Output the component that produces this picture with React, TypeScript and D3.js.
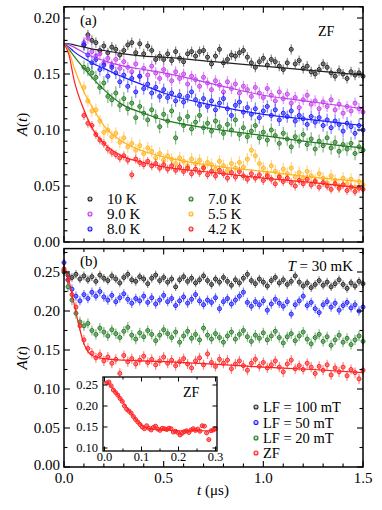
import React from "react";
import * as d3 from "d3";

// ---------- DATA ----------
// Panel (a): ZF asymmetry, t = 0.10 + 0.02*i (μs)
const TOP_T0 = 0.1;
const TOP_STEP = 0.02;
const topLabels = ["10 K", "9.0 K", "8.0 K", "7.0 K", "5.5 K", "4.2 K"];
const a10K = [
  0.176,0.185,0.180,0.178,0.171,0.175,0.169,0.174,0.172,0.167,
  0.171,0.176,0.178,0.169,0.177,0.168,0.175,0.171,0.163,0.166,
  0.163,0.168,0.162,0.170,0.164,0.161,0.168,0.170,0.166,0.170,
  0.171,0.165,0.159,0.166,0.172,0.160,0.163,0.167,0.166,0.169,
  0.171,0.165,0.160,0.156,0.161,0.164,0.158,0.163,0.161,0.157,
  0.154,0.160,0.172,0.159,0.162,0.155,0.157,0.152,0.150,0.154,
  0.159,0.156,0.151,0.148,0.153,0.150,0.146,0.152,0.149,0.151,
  0.148];
const a9K = [
  0.178,0.182,0.170,0.166,0.168,0.160,0.164,0.158,0.163,0.155,
  0.161,0.156,0.152,0.159,0.148,0.155,0.149,0.157,0.151,0.146,
  0.154,0.149,0.144,0.152,0.146,0.150,0.141,0.148,0.145,0.139,
  0.147,0.142,0.136,0.144,0.140,0.134,0.143,0.137,0.141,0.133,
  0.139,0.136,0.130,0.138,0.133,0.129,0.137,0.131,0.126,0.134,
  0.128,0.132,0.124,0.129,0.120,0.127,0.131,0.123,0.126,0.119,
  0.125,0.121,0.127,0.118,0.123,0.115,0.121,0.117,0.124,0.119,
  0.116];
const a8K = [
  0.176,0.167,0.160,0.163,0.154,0.158,0.148,0.156,0.151,0.143,
  0.149,0.139,0.146,0.134,0.148,0.137,0.141,0.133,0.138,0.130,
  0.136,0.129,0.133,0.126,0.131,0.125,0.130,0.134,0.127,0.122,
  0.128,0.121,0.126,0.118,0.124,0.128,0.119,0.113,0.122,0.125,
  0.116,0.120,0.114,0.119,0.111,0.117,0.121,0.113,0.118,0.109,
  0.115,0.112,0.117,0.108,0.113,0.110,0.105,0.112,0.107,0.111,
  0.104,0.109,0.102,0.108,0.105,0.099,0.106,0.103,0.097,0.104,
  0.100];
const a7K = [
  0.156,0.154,0.151,0.147,0.138,0.142,0.130,0.127,0.133,0.122,
  0.128,0.119,0.124,0.111,0.121,0.115,0.109,0.118,0.112,0.103,
  0.114,0.108,0.117,0.093,0.110,0.104,0.112,0.101,0.107,0.113,
  0.102,0.106,0.099,0.108,0.103,0.097,0.105,0.100,0.109,0.096,
  0.102,0.094,0.099,0.104,0.093,0.098,0.091,0.100,0.095,0.088,
  0.097,0.092,0.085,0.094,0.090,0.096,0.087,0.092,0.083,0.090,
  0.086,0.093,0.084,0.089,0.081,0.087,0.083,0.088,0.079,0.085,
  0.082];
const a55K = [
  0.138,0.126,0.117,0.118,0.108,0.098,0.100,0.094,0.097,0.089,
  0.093,0.085,0.088,0.082,0.086,0.079,0.084,0.081,0.075,0.079,
  0.073,0.077,0.074,0.070,0.075,0.072,0.068,0.074,0.070,0.073,
  0.067,0.071,0.069,0.065,0.072,0.068,0.064,0.070,0.066,0.071,
  0.067,0.074,0.082,0.077,0.070,0.066,0.061,0.068,0.063,0.059,
  0.065,0.061,0.066,0.058,0.062,0.057,0.063,0.059,0.055,0.061,
  0.057,0.053,0.059,0.055,0.050,0.057,0.052,0.056,0.049,0.054,
  0.051];
const a42K = [
  0.113,0.106,0.104,0.096,0.091,0.088,0.083,0.080,0.078,0.075,
  0.077,0.073,0.060,0.074,0.071,0.069,0.072,0.068,0.070,0.066,
  0.069,0.065,0.068,0.064,0.067,0.063,0.066,0.061,0.065,0.062,
  0.066,0.060,0.063,0.059,0.064,0.061,0.057,0.062,0.058,0.063,
  0.059,0.056,0.061,0.057,0.060,0.055,0.059,0.056,0.052,0.058,
  0.054,0.057,0.053,0.050,0.055,0.052,0.056,0.051,0.054,0.049,
  0.053,0.050,0.047,0.052,0.048,0.051,0.046,0.049,0.045,0.048,
  0.047];
// fit curves for panel (a), sampled at fitT
const fitT = [0, 0.025, 0.05, 0.1, 0.15, 0.2, 0.3, 0.4, 0.5, 0.75, 1.0, 1.25, 1.5];
const fit10K = [0.177,0.177,0.176,0.174,0.172,0.171,0.168,0.166,0.165,0.161,0.157,0.153,0.149];
const fit9K = [0.177,0.176,0.174,0.169,0.165,0.162,0.157,0.154,0.151,0.141,0.131,0.125,0.119];
const fit8K = [0.177,0.174,0.170,0.164,0.159,0.155,0.147,0.140,0.133,0.122,0.114,0.109,0.104];
const fit7K = [0.177,0.172,0.166,0.155,0.145,0.136,0.122,0.115,0.109,0.101,0.095,0.089,0.084];
const fit55K = [0.177,0.170,0.156,0.134,0.118,0.104,0.089,0.081,0.076,0.068,0.063,0.058,0.054];
const fit42K = [0.177,0.167,0.145,0.118,0.099,0.088,0.076,0.071,0.067,0.062,0.057,0.053,0.048];

// Panel (b): T = 30 mK, t = 0.00 + 0.02*i (μs)
const BOT_T0 = 0.0;
const BOT_STEP = 0.02;
const botLabels = ["LF = 100 mT", "LF = 50 mT", "LF = 20 mT", "ZF"];
const bLF100 = [
  0.250,0.246,0.243,0.247,0.241,0.245,0.240,0.244,0.238,0.246,
  0.242,0.239,0.245,0.241,0.236,0.243,0.247,0.240,0.238,0.244,
  0.241,0.235,0.242,0.246,0.239,0.243,0.237,0.241,0.231,0.240,
  0.244,0.238,0.242,0.236,0.240,0.245,0.239,0.234,0.241,0.237,
  0.243,0.238,0.233,0.240,0.236,0.242,0.247,0.239,0.235,0.241,
  0.237,0.232,0.239,0.243,0.236,0.240,0.234,0.238,0.245,0.237,
  0.232,0.236,0.230,0.234,0.239,0.233,0.237,0.231,0.235,0.240,
  0.234,0.229,0.236,0.232,0.238,0.235];
const bLF50 = [
  0.262,0.240,0.228,0.219,0.213,0.221,0.216,0.224,0.219,0.225,
  0.218,0.214,0.220,0.212,0.217,0.222,0.215,0.210,0.216,0.213,
  0.219,0.211,0.217,0.209,0.214,0.220,0.212,0.216,0.207,0.213,
  0.218,0.210,0.215,0.221,0.213,0.208,0.214,0.211,0.217,0.203,
  0.212,0.216,0.209,0.214,0.219,0.224,0.211,0.206,0.212,0.208,
  0.213,0.201,0.209,0.215,0.210,0.206,0.212,0.196,0.208,0.213,
  0.219,0.207,0.211,0.203,0.198,0.208,0.212,0.205,0.210,0.201,
  0.207,0.211,0.204,0.208,0.200,0.205];
const bLF20 = [
  0.252,0.231,0.214,0.197,0.186,0.181,0.184,0.175,0.170,0.178,
  0.173,0.168,0.176,0.171,0.166,0.174,0.179,0.169,0.164,0.172,
  0.167,0.175,0.170,0.162,0.169,0.176,0.171,0.166,0.173,0.160,
  0.168,0.174,0.165,0.170,0.163,0.178,0.169,0.164,0.171,0.166,
  0.160,0.168,0.173,0.164,0.170,0.175,0.167,0.161,0.169,0.165,
  0.172,0.163,0.168,0.174,0.166,0.159,0.167,0.171,0.162,0.168,
  0.173,0.164,0.158,0.166,0.170,0.161,0.167,0.156,0.163,0.169,
  0.160,0.165,0.157,0.163,0.168,0.161];
const bZF = [
  0.254,0.240,0.221,0.205,0.181,0.163,0.152,0.146,0.140,0.144,
  0.136,0.141,0.133,0.138,0.120,0.143,0.135,0.139,0.132,0.137,
  0.142,0.134,0.138,0.131,0.136,0.141,0.133,0.137,0.130,0.135,
  0.139,0.132,0.127,0.136,0.140,0.131,0.145,0.134,0.129,0.138,
  0.133,0.137,0.126,0.132,0.136,0.130,0.124,0.133,0.138,0.129,
  0.134,0.127,0.131,0.136,0.128,0.122,0.132,0.137,0.126,0.130,
  0.125,0.133,0.128,0.120,0.129,0.124,0.131,0.118,0.127,0.122,
  0.128,0.117,0.125,0.121,0.113,0.124];
const fitZFT = [0, 0.02, 0.04, 0.06, 0.08, 0.1, 0.12, 0.15, 0.2, 0.3, 0.5, 0.75, 1.0, 1.25, 1.5];
const fitZF = [0.256,0.244,0.222,0.198,0.176,0.158,0.148,0.142,0.139,0.137,0.135,0.132,0.128,0.125,0.121];

// Inset: ZF early times, t = 0.006 + 0.006*i (μs)
const INS_T0 = 0.006;
const INS_STEP = 0.006;
const insZF = [
  0.255,0.257,0.248,0.238,0.232,0.226,0.218,0.211,0.200,0.192,
  0.188,0.183,0.175,0.168,0.162,0.156,0.150,0.146,0.153,0.147,
  0.143,0.149,0.152,0.145,0.142,0.147,0.146,0.144,0.147,0.146,
  0.138,0.140,0.137,0.131,0.135,0.139,0.141,0.137,0.143,0.146,
  0.142,0.145,0.140,0.153,0.152,0.136,0.120,0.141,0.143,0.146];
const insFitT = [0, 0.02, 0.04, 0.06, 0.08, 0.1, 0.12, 0.15, 0.2, 0.25, 0.3];
const insFit = [0.258,0.245,0.222,0.197,0.174,0.155,0.146,0.143,0.141,0.141,0.141];

// tick labels
const yTicksTop = [0, 0.05, 0.1, 0.15, 0.2];
const yTicksBot = [0, 0.05, 0.1, 0.15, 0.2, 0.25];
const xTicks = [0, 0.5, 1.0, 1.5];
const insXTicks = [0, 0.1, 0.2, 0.3];
const insYTicks = [0.1, 0.15, 0.2, 0.25];

// ---------- STYLE ----------
const FONT = '"Liberation Serif", "DejaVu Serif", "Times New Roman", serif';
const C = {
  black: "#222222",
  magenta: "#c23ded",
  blue: "#1c1cff",
  green: "#217a21",
  orange: "#ffb41e",
  red: "#ff2020",
};

const X0 = 64, X1 = 363;
const x = d3.scaleLinear().domain([0, 1.5]).range([X0, X1]);
const yTop = d3.scaleLinear().domain([0, 0.21]).range([242, 6.8]);
const yBot = d3.scaleLinear().domain([0, 0.28]).range([467, 248.6]);
const xIns = d3.scaleLinear().domain([0, 0.3]).range([104.5, 215.5]);
const yIns = d3.scaleLinear().domain([0.1, 0.25]).range([448, 385]);

type Scale = d3.ScaleLinear<number, number>;

function Points({ vals, t0, step, xs, ys, color, err, r = 2 }:
  { vals: number[]; t0: number; step: number; xs: Scale; ys: Scale; color: string; err: number; r?: number }) {
  return (
    <g>
      {vals.map((v, i) => {
        const cx = xs(t0 + i * step);
        const cy = ys(v);
        return (
          <g key={i}>
            <line x1={cx} x2={cx} y1={ys(v - err)} y2={ys(v + err)} stroke={color} strokeOpacity={0.55} strokeWidth={1.2} />
            <line x1={cx - 2} x2={cx + 2} y1={cy} y2={cy} stroke={color} strokeOpacity={0.5} strokeWidth={1} />
            <circle cx={cx} cy={cy} r={r} fill={color} fillOpacity={0.25} stroke={color} strokeWidth={1} />
          </g>
        );
      })}
    </g>
  );
}

function Fit({ ts, vs, xs, ys, color, w = 1.2 }: { ts: number[]; vs: number[]; xs: Scale; ys: Scale; color: string; w?: number }) {
  const line = d3.line<number>().x((_, i) => xs(ts[i])).y((v) => ys(v)).curve(d3.curveMonotoneX);
  return <path d={line(vs) || ""} fill="none" stroke={color} strokeWidth={w} />;
}

function Ticks({ xs, ys, xMinor, xMajor, yMinor, yMajor, maj = 6, min = 3.5 }:
  { xs: Scale; ys: Scale; xMinor: number; xMajor: number; yMinor: number; yMajor: number; maj?: number; min?: number }) {
  const [xa, xb] = xs.domain();
  const [ya, yb] = ys.domain();
  const left = xs.range()[0], right = xs.range()[1];
  const bottom = ys.range()[0], top = ys.range()[1];
  const isMaj = (v: number, m: number) => Math.abs(v / m - Math.round(v / m)) < 1e-6;
  const xt = d3.range(Math.ceil(xa / xMinor - 1e-6), Math.floor(xb / xMinor + 1e-6) + 1).map((k) => k * xMinor);
  const yt = d3.range(Math.ceil(ya / yMinor - 1e-6), Math.floor(yb / yMinor + 1e-6) + 1).map((k) => k * yMinor);
  const out: any[] = [];
  xt.forEach((t, i) => {
    const L = isMaj(t, xMajor) ? maj : min;
    const px = xs(t);
    out.push(<line key={"xb" + i} x1={px} x2={px} y1={bottom} y2={bottom - L} stroke="#000" strokeWidth={1.1} />);
    out.push(<line key={"xt" + i} x1={px} x2={px} y1={top} y2={top + L} stroke="#000" strokeWidth={1.1} />);
  });
  yt.forEach((t, i) => {
    const L = isMaj(t, yMajor) ? maj : min;
    const py = ys(t);
    out.push(<line key={"yl" + i} x1={left} x2={left + L} y1={py} y2={py} stroke="#000" strokeWidth={1.1} />);
    out.push(<line key={"yr" + i} x1={right} x2={right - L} y1={py} y2={py} stroke="#000" strokeWidth={1.1} />);
  });
  return <g>{out}</g>;
}

export default function App() {
  const topSeries = [
    { vals: a10K, fit: fit10K, color: C.black, err: 0.0045 },
    { vals: a9K, fit: fit9K, color: C.magenta, err: 0.005 },
    { vals: a8K, fit: fit8K, color: C.blue, err: 0.0055 },
    { vals: a7K, fit: fit7K, color: C.green, err: 0.006 },
    { vals: a55K, fit: fit55K, color: C.orange, err: 0.0055 },
    { vals: a42K, fit: fit42K, color: C.red, err: 0.004 },
  ];
  const botSeries = [
    { vals: bLF100, color: C.black, err: 0.0055 },
    { vals: bLF50, color: C.blue, err: 0.006 },
    { vals: bLF20, color: C.green, err: 0.0065 },
    { vals: bZF, color: C.red, err: 0.0065 },
  ];
  const topLegend = [
    { label: topLabels[0], color: C.black }, { label: topLabels[1], color: C.magenta }, { label: topLabels[2], color: C.blue },
    { label: topLabels[3], color: C.green }, { label: topLabels[4], color: C.orange }, { label: topLabels[5], color: C.red },
  ];
  const legRowsTop = [199, 214, 229];
  const legRowsBot = [407, 422.5, 438, 453];
  const botColors = [C.black, C.blue, C.green, C.red];

  return (
    <svg width={382} height={510} style={{ position: "absolute", left: 0, top: 0, background: "#fff", fontFamily: FONT }}>
      <rect x={0} y={0} width={382} height={510} fill="#fff" />
      {/* ===== Panel (a) ===== */}
      <g>
        {topSeries.map((s, k) => (
          <Points key={k} vals={s.vals} t0={TOP_T0} step={TOP_STEP} xs={x} ys={yTop} color={s.color} err={s.err} />
        ))}
        {topSeries.map((s, k) => (
          <Fit key={k} ts={fitT} vs={s.fit} xs={x} ys={yTop} color={s.color} />
        ))}
        <Ticks xs={x} ys={yTop} xMinor={0.1} xMajor={0.5} yMinor={0.01} yMajor={0.05} />
        <rect x={X0} y={yTop(0.21)} width={X1 - X0} height={yTop(0) - yTop(0.21)} fill="none" stroke="#000" strokeWidth={1.5} />
        {yTicksTop.map((t) => (
          <text key={t} x={60} y={yTop(t) + 5} fontSize={15} textAnchor="end">{t.toFixed(2)}</text>
        ))}
        <text x={80} y={25} fontSize={15}>(a)</text>
        <text x={318} y={36} fontSize={14}>ZF</text>
        <text transform={`translate(27,${yTop(0.105)}) rotate(-90)`} fontSize={15} textAnchor="middle">
          <tspan fontStyle="italic">A</tspan>(<tspan fontStyle="italic">t</tspan>)
        </text>
        {topLegend.map((l, i) => {
          const col = Math.floor(i / 3);
          const row = i % 3;
          const mx = col === 0 ? 90 : 191;
          const ty = legRowsTop[row];
          return (
            <g key={i}>
              <circle cx={mx} cy={ty} r={2} fill={l.color} fillOpacity={0.25} stroke={l.color} strokeWidth={1.1} />
              <text x={mx + 17} y={ty + 5} fontSize={15}>{l.label}</text>
            </g>
          );
        })}
      </g>

      {/* ===== Panel (b) ===== */}
      <g>
        {botSeries.map((s, k) => (
          <Points key={k} vals={s.vals} t0={BOT_T0} step={BOT_STEP} xs={x} ys={yBot} color={s.color} err={s.err} />
        ))}
        <Fit ts={fitZFT} vs={fitZF} xs={x} ys={yBot} color={C.red} />
        <Ticks xs={x} ys={yBot} xMinor={0.1} xMajor={0.5} yMinor={0.025} yMajor={0.05} />
        <rect x={X0} y={yBot(0.28)} width={X1 - X0} height={yBot(0) - yBot(0.28)} fill="none" stroke="#000" strokeWidth={1.5} />
        {yTicksBot.map((t) => (
          <text key={t} x={60} y={yBot(t) + (t === 0 ? 3 : 5)} fontSize={15} textAnchor="end">{t.toFixed(2)}</text>
        ))}
        {xTicks.map((t) => (
          <text key={t} x={x(t)} y={483} fontSize={15} textAnchor="middle">{t.toFixed(1)}</text>
        ))}
        <text x={213} y={495} fontSize={15} textAnchor="middle">
          <tspan fontStyle="italic">t</tspan> (μs)
        </text>
        <text x={80} y={266} fontSize={15}>(b)</text>
        <text x={353} y={271} fontSize={15} textAnchor="end">
          <tspan fontStyle="italic">T</tspan> = 30 mK
        </text>
        <text transform={`translate(27,${yBot(0.14)}) rotate(-90)`} fontSize={15} textAnchor="middle">
          <tspan fontStyle="italic">A</tspan>(<tspan fontStyle="italic">t</tspan>)
        </text>
        {botLabels.map((l, i) => (
          <g key={i}>
            <circle cx={256} cy={legRowsBot[i]} r={2} fill={botColors[i]} fillOpacity={0.25} stroke={botColors[i]} strokeWidth={1.1} />
            <text x={263} y={legRowsBot[i] + 5} fontSize={14.5}>{l}</text>
          </g>
        ))}
      </g>

      {/* ===== Inset ===== */}
      <g>
        <rect x={103} y={377} width={114} height={74} fill="#fff" />
        <Points vals={insZF} t0={INS_T0} step={INS_STEP} xs={xIns} ys={yIns} color={C.red} err={0.004} r={2} />
        <Fit ts={insFitT} vs={insFit} xs={xIns} ys={yIns} color={C.red} w={1} />
        <g>
          {d3.range(0, 7).map((k) => {
            const t = k * 0.05;
            const px = xIns(t);
            const L = k % 2 === 0 ? 4.5 : 2.5;
            return (
              <g key={k}>
                <line x1={px} x2={px} y1={451} y2={451 - L} stroke="#000" strokeWidth={1} />
                <line x1={px} x2={px} y1={377} y2={377 + L} stroke="#000" strokeWidth={1} />
              </g>
            );
          })}
          {insYTicks.map((t, k) => {
            const py = yIns(t);
            return (
              <g key={k}>
                <line x1={103} x2={107.5} y1={py} y2={py} stroke="#000" strokeWidth={1} />
                <line x1={217} x2={212.5} y1={py} y2={py} stroke="#000" strokeWidth={1} />
              </g>
            );
          })}
        </g>
        <rect x={103} y={377} width={114} height={74} fill="none" stroke="#000" strokeWidth={1.3} />
        {insYTicks.map((t) => (
          <text key={t} x={98} y={yIns(t) + 4} fontSize={12.5} textAnchor="end">{t.toFixed(2)}</text>
        ))}
        {insXTicks.map((t) => (
          <text key={t} x={xIns(t)} y={461} fontSize={12.5} textAnchor="middle">{t.toFixed(1)}</text>
        ))}
        <text x={183} y={397} fontSize={14}>ZF</text>
      </g>
    </svg>
  );
}
